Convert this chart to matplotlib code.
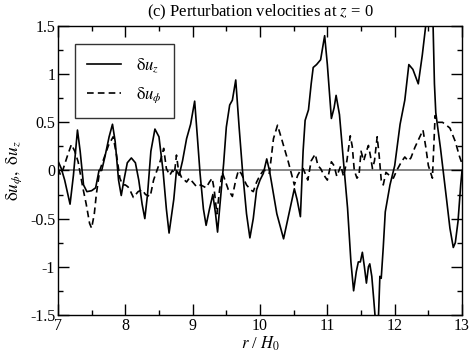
import numpy as np
import matplotlib
matplotlib.use('Agg')
import matplotlib.pyplot as plt
from matplotlib.ticker import MultipleLocator, FixedLocator, FixedFormatter

plt.rcParams['font.family'] = ['Liberation Serif', 'DejaVu Serif']
plt.rcParams['mathtext.fontset'] = 'stix'

# delta u_z (solid)
r_z = [7.00, 7.05, 7.10, 7.18, 7.23, 7.29, 7.33, 7.38, 7.43, 7.50, 7.56, 7.61, 7.65,
       7.70, 7.76, 7.81, 7.85, 7.90, 7.94, 7.98, 8.03, 8.09, 8.15, 8.20, 8.25, 8.29,
       8.33, 8.38, 8.44, 8.50, 8.56, 8.61, 8.65, 8.69, 8.72, 8.76, 8.80, 8.85, 8.91,
       8.97, 9.03, 9.07, 9.11, 9.16, 9.20, 9.25, 9.30, 9.34, 9.37, 9.40, 9.46, 9.50,
       9.55, 9.59, 9.64, 9.69, 9.74, 9.80, 9.85, 9.90, 9.95, 10.00, 10.05, 10.10,
       10.14, 10.17, 10.25, 10.35, 10.43, 10.51, 10.55, 10.60, 10.64, 10.67, 10.72,
       10.76, 10.79, 10.84, 10.90, 10.96, 11.00, 11.06, 11.10, 11.13, 11.18, 11.24,
       11.30, 11.35, 11.39, 11.43, 11.46, 11.49, 11.52, 11.55, 11.58, 11.61, 11.63,
       11.66, 11.69, 11.73, 11.76, 11.78, 11.80, 11.83, 11.86, 11.93, 12.00, 12.08,
       12.15, 12.21, 12.27, 12.35, 12.41, 12.46, 12.52, 12.57, 12.59, 12.61, 12.64,
       12.68, 12.77, 12.82, 12.87, 12.90, 12.94, 12.98, 13.00]
du_z = [0.10, 0.02, -0.10, -0.35, -0.05, 0.42, 0.20, -0.15, -0.22, -0.21, -0.18, 0.00, 0.00,
        0.15, 0.35, 0.48, 0.30, -0.10, -0.26, -0.10, 0.08, 0.13, 0.08, -0.10, -0.35, -0.50,
        -0.25, 0.20, 0.43, 0.35, 0.00, -0.40, -0.65, -0.45, -0.30, 0.00, -0.05, 0.10, 0.33,
        0.48, 0.72, 0.35, -0.03, -0.40, -0.57, -0.40, -0.25, -0.45, -0.64, -0.40, 0.07, 0.45,
        0.68, 0.73, 0.94, 0.45, 0.00, -0.45, -0.70, -0.50, -0.20, -0.10, -0.03, 0.12,
        0.00, -0.12, -0.45, -0.71, -0.45, -0.19, -0.30, -0.48, 0.20, 0.52, 0.63,
        0.90, 1.07, 1.10, 1.15, 1.40, 1.10, 0.54, 0.65, 0.78, 0.58, 0.09,
        -0.39, -0.95, -1.25, -1.05, -0.95, -0.95, -0.85, -1.00, -1.17, -1.00, -0.97,
        -1.10, -1.35, -1.70, -1.50, -1.10, -1.12, -0.80, -0.43, -0.15, 0.05, 0.48,
        0.73, 1.10, 1.05, 0.90, 1.20, 1.50, 1.85, 1.50, 0.90, 0.60, 0.44,
        0.23, -0.30, -0.60, -0.80, -0.75, -0.53, -0.15, 0.00]

# delta u_phi (dashed)
r_phi = [7.00, 7.04, 7.08, 7.14, 7.20, 7.25, 7.30, 7.37, 7.42, 7.47, 7.50, 7.54, 7.57,
         7.62, 7.67, 7.75, 7.82, 7.87, 7.92, 7.96, 8.00, 8.04, 8.08, 8.12, 8.19, 8.25,
         8.30, 8.37, 8.42, 8.47, 8.52, 8.57, 8.61, 8.66, 8.70, 8.73, 8.76, 8.79, 8.84,
         8.88, 8.91, 8.95, 9.00, 9.06, 9.12, 9.20, 9.25, 9.29, 9.32, 9.36, 9.40, 9.44,
         9.48, 9.53, 9.59, 9.64, 9.68, 9.72, 9.80, 9.86, 9.90, 9.95, 10.00, 10.05, 10.10,
         10.14, 10.20, 10.26, 10.32, 10.42, 10.51, 10.56, 10.60, 10.64, 10.67, 10.71,
         10.76, 10.82, 10.86, 10.90, 10.95, 11.00, 11.06, 11.10, 11.14, 11.20, 11.24,
         11.29, 11.34, 11.37, 11.40, 11.44, 11.47, 11.50, 11.54, 11.58, 11.61, 11.64,
         11.67, 11.70, 11.74, 11.77, 11.80, 11.83, 11.87, 11.92, 11.98, 12.03, 12.10,
         12.15, 12.20, 12.24, 12.30, 12.36, 12.42, 12.46, 12.50, 12.56, 12.60, 12.63,
         12.71, 12.75, 12.82, 12.90, 12.96, 13.00]
du_phi = [0.02, -0.05, 0.02, 0.15, 0.27, 0.20, 0.09, -0.18, -0.35, -0.55, -0.60, -0.45, -0.25,
          0.00, 0.10, 0.26, 0.35, 0.16, -0.08, -0.15, -0.15, -0.17, -0.22, -0.28, -0.22, -0.20,
          -0.25, -0.27, -0.10, 0.00, 0.10, 0.23, 0.02, -0.05, 0.00, -0.03, 0.16, 0.00, -0.08,
          -0.10, -0.12, -0.08, -0.12, -0.17, -0.15, -0.18, -0.12, -0.08, -0.20, -0.45, -0.20, -0.02,
          -0.10, -0.20, -0.27, -0.10, 0.00, -0.03, -0.15, -0.20, -0.22, -0.12, -0.05, 0.00, 0.00,
          -0.03, 0.33, 0.47, 0.33, 0.09, -0.15, -0.05, 0.00, 0.02, -0.03, -0.10,
          0.10, 0.17, 0.05, 0.02, -0.05, -0.10, 0.09, 0.05, -0.06, 0.05, -0.06,
          0.10, 0.36, 0.25, 0.00, -0.08, -0.05, 0.20, 0.10, 0.20, 0.26, 0.15,
          0.02, 0.10, 0.35, 0.15, -0.10, -0.15, -0.02, -0.05, -0.08, 0.00, 0.09,
          0.14, 0.10, 0.13, 0.24, 0.33, 0.42, 0.25, 0.05, -0.08, 0.57, 0.50,
          0.50, 0.48, 0.44, 0.30, 0.15, 0.07]

y_ticks = [-1.5, -1, -0.5, 0, 0.5, 1, 1.5]
y_labels = ['-1.5', '-1', '-0.5', '0', '0.5', '1', '1.5']
x_ticks = [7, 8, 9, 10, 11, 12, 13]

fig = plt.figure(figsize=(4.71, 3.57), dpi=100)
ax = fig.add_axes([0.123, 0.118, 0.858, 0.809])

ax.axhline(0, color='#666666', lw=1.1, zorder=1)
ax.plot(r_z, du_z, color='black', lw=1.2, label=r'$\mathrm{\delta}u_z$', zorder=3)
ax.plot(r_phi, du_phi, color='black', lw=1.2, ls=(0, (4, 2.5)),
        label=r'$\mathrm{\delta}u_\phi$', zorder=2)

ax.set_xlim(7, 13)
ax.set_ylim(-1.5, 1.5)
ax.xaxis.set_major_locator(FixedLocator(x_ticks))
ax.xaxis.set_minor_locator(MultipleLocator(0.5))
ax.yaxis.set_major_locator(FixedLocator(y_ticks))
ax.yaxis.set_major_formatter(FixedFormatter(y_labels))
ax.yaxis.set_minor_locator(MultipleLocator(0.25))
ax.tick_params(which='both', direction='in', top=True, right=True, labelsize=11.5, width=1)
ax.tick_params(which='major', length=8, pad=2)
ax.tick_params(which='minor', length=3.8)
for s in ax.spines.values():
    s.set_linewidth(1.0)

ax.set_title(r'(c) Perturbation velocities at $z$ = 0', fontsize=12, pad=7)
ax.set_xlabel(r'$r$ / $H_0$', fontsize=12, labelpad=1)
ax.set_ylabel(r'$\mathrm{\delta}u_\phi,\ \mathrm{\delta}u_z$', fontsize=12.5, labelpad=4)

leg = ax.legend(loc='upper left', bbox_to_anchor=(0.042, 0.938), fontsize=12,
                frameon=True, fancybox=False, handlelength=2.0, borderpad=0.75,
                labelspacing=0.65, handletextpad=0.9, borderaxespad=0)
leg.get_frame().set_edgecolor('black')
leg.get_frame().set_linewidth(1.0)

fig.savefig('out.png', dpi=100)
